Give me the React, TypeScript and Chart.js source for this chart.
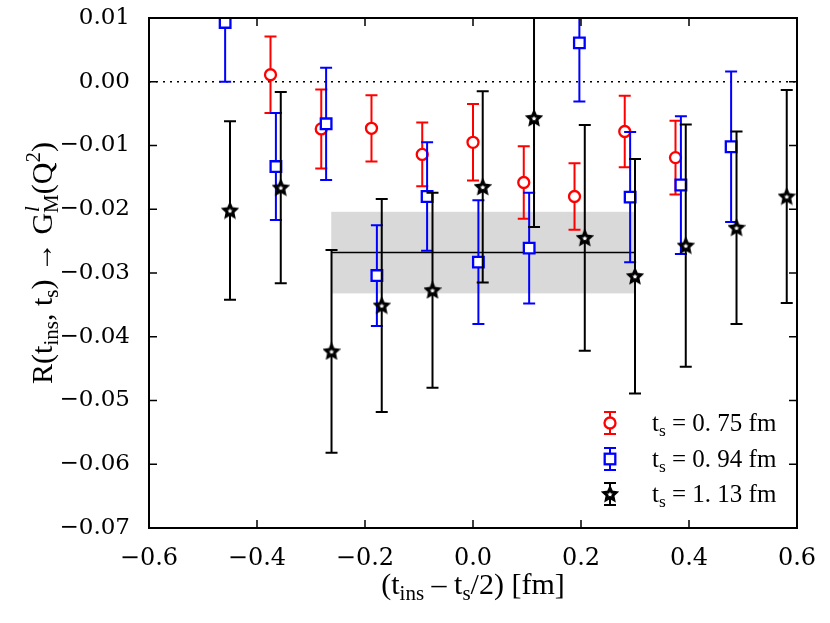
import React, { useEffect, useRef } from 'react';
import { Chart, registerables } from 'chart.js';

Chart.register(...registerables);

// t_s = 0.75 fm
const xRed = [-0.375, -0.281, -0.188, -0.094, 0.0, 0.094, 0.188, 0.281, 0.375];
const yRed = [0.0011, -0.0074, -0.0073, -0.0114, -0.0095, -0.0158, -0.018, -0.0078, -0.0119];
const eRed = [0.006, 0.0062, 0.0052, 0.005, 0.006, 0.0057, 0.0052, 0.0056, 0.0058];

// t_s = 0.94 fm
const xBlue = [-0.459, -0.365, -0.272, -0.178, -0.085, 0.01, 0.104, 0.197, 0.291, 0.385, 0.478];
const yBlue = [0.0093, -0.0133, -0.0066, -0.0304, -0.018, -0.0283, -0.0261, 0.0061, -0.0181, -0.0162, -0.0102];
const eBlue = [0.0093, 0.0084, 0.0088, 0.0079, 0.0085, 0.0097, 0.0087, 0.0092, 0.0102, 0.0108, 0.0118];

// t_s = 1.13 fm
const xBlack = [-0.45, -0.356, -0.262, -0.169, -0.075, 0.018, 0.113, 0.207, 0.3, 0.394, 0.488, 0.581];
const yBlack = [-0.0202, -0.0166, -0.0423, -0.0351, -0.0327, -0.0165, -0.0057, -0.0245, -0.0305, -0.0257, -0.0229, -0.018];
const eBlack = [0.014, 0.015, 0.0159, 0.0167, 0.0153, 0.015, 0.0171, 0.0177, 0.0184, 0.019, 0.0151, 0.0167];

// fit band
const fitRange = [-0.2625, 0.3];
const fitValue = -0.0268;
const fitErr = 0.0064;

const legendLabels = ['0. 75 fm', '0. 94 fm', '1. 13 fm'];

const SERIF = '"Liberation Serif", serif';
const TICKFONT = '"DejaVu Serif", serif';

type Seg = { t: string; k?: 'sub' | 'sup' | 'stack'; sub?: string; italic?: boolean };

function segWidth(ctx: CanvasRenderingContext2D, s: Seg, size: number) {
  if (s.k === 'stack') {
    ctx.font = `italic ${size * 0.7}px ${SERIF}`;
    const a = ctx.measureText(s.t).width;
    ctx.font = `${size * 0.7}px ${SERIF}`;
    const b = ctx.measureText(s.sub || '').width;
    return Math.max(a, b);
  }
  const fs = s.k ? size * 0.7 : size;
  ctx.font = `${s.italic ? 'italic ' : ''}${fs}px ${SERIF}`;
  return ctx.measureText(s.t).width;
}

function drawRich(ctx: CanvasRenderingContext2D, segs: Seg[], x: number, y: number, size: number, center = false) {
  let w = 0;
  segs.forEach(s => (w += segWidth(ctx, s, size)));
  let cx = center ? x - w / 2 : x;
  ctx.textBaseline = 'alphabetic';
  ctx.textAlign = 'left';
  segs.forEach(s => {
    const sw = segWidth(ctx, s, size);
    if (s.k === 'stack') {
      ctx.font = `italic ${size * 0.7}px ${SERIF}`;
      ctx.fillText(s.t, cx + 1, y - size * 0.42);
      ctx.font = `${size * 0.7}px ${SERIF}`;
      ctx.fillText(s.sub || '', cx, y + size * 0.2);
    } else {
      const fs = s.k ? size * 0.7 : size;
      ctx.font = `${s.italic ? 'italic ' : ''}${fs}px ${SERIF}`;
      const dy = s.k === 'sub' ? size * 0.2 : s.k === 'sup' ? -size * 0.4 : 0;
      ctx.fillText(s.t, cx, y + dy);
    }
    cx += sw;
  });
}

function makeStar(): HTMLCanvasElement {
  const c = document.createElement('canvas');
  const s = 18;
  c.width = s;
  c.height = s;
  const g = c.getContext('2d')!;
  g.translate(s / 2, s / 2 + 0.5);
  g.beginPath();
  for (let i = 0; i < 10; i++) {
    const r = i % 2 === 0 ? 6.3 : 3.0;
    const a = -Math.PI / 2 + (i * Math.PI) / 5;
    g.lineTo(r * Math.cos(a), r * Math.sin(a));
  }
  g.closePath();
  g.fillStyle = '#fff';
  g.fill();
  g.lineWidth = 3;
  g.lineJoin = 'miter';
  g.strokeStyle = '#000';
  g.stroke();
  return c;
}

const errorBars = {
  id: 'errorBars',
  beforeDatasetDraw(chart: any, args: any) {
    const ds = chart.data.datasets[args.index];
    if (!ds.errs) return;
    const { ctx, chartArea, scales } = chart;
    ctx.save();
    ctx.beginPath();
    ctx.rect(chartArea.left, chartArea.top, chartArea.right - chartArea.left, chartArea.bottom - chartArea.top);
    ctx.clip();
    ctx.strokeStyle = ds.borderColor;
    ctx.lineWidth = 2;
    ds.data.forEach((p: any, i: number) => {
      const px = scales.x.getPixelForValue(p.x);
      const t = scales.y.getPixelForValue(p.y + ds.errs[i]);
      const b = scales.y.getPixelForValue(p.y - ds.errs[i]);
      ctx.beginPath();
      ctx.moveTo(px, t);
      ctx.lineTo(px, b);
      ctx.moveTo(px - 6, t);
      ctx.lineTo(px + 6, t);
      ctx.moveTo(px - 6, b);
      ctx.lineTo(px + 6, b);
      ctx.stroke();
    });
    ctx.restore();
  },
};

const bandPlugin = {
  id: 'band',
  beforeDatasetsDraw(chart: any) {
    const { ctx, scales } = chart;
    const x0 = scales.x.getPixelForValue(fitRange[0]);
    const x1 = scales.x.getPixelForValue(fitRange[1]);
    const y0 = scales.y.getPixelForValue(fitValue + fitErr);
    const y1 = scales.y.getPixelForValue(fitValue - fitErr);
    ctx.save();
    ctx.fillStyle = '#d9d9d9';
    ctx.fillRect(x0, y0, x1 - x0, y1 - y0);
    ctx.restore();
  },
};

const framePlugin = {
  id: 'frame',
  afterDatasetsDraw(chart: any) {
    const { ctx, chartArea: a, scales } = chart;
    ctx.save();
    ctx.strokeStyle = '#000';
    ctx.lineWidth = 1.5;
    ctx.beginPath();
    scales.x.ticks.forEach((t: any) => {
      const px = scales.x.getPixelForValue(t.value);
      ctx.moveTo(px, a.bottom);
      ctx.lineTo(px, a.bottom - 8);
      ctx.moveTo(px, a.top);
      ctx.lineTo(px, a.top + 8);
    });
    scales.y.ticks.forEach((t: any) => {
      const py = scales.y.getPixelForValue(t.value);
      ctx.moveTo(a.left, py);
      ctx.lineTo(a.left + 8, py);
      ctx.moveTo(a.right, py);
      ctx.lineTo(a.right - 8, py);
    });
    ctx.stroke();
    ctx.lineWidth = 2;
    ctx.strokeRect(a.left, a.top, a.right - a.left, a.bottom - a.top);
    ctx.restore();
  },
  afterDraw(chart: any) {
    const { ctx, chartArea: a } = chart;
    ctx.save();
    ctx.fillStyle = '#000';
    // x title
    drawRich(
      ctx,
      [{ t: '(t' }, { t: 'ins', k: 'sub' }, { t: ' – t' }, { t: 's', k: 'sub' }, { t: '/2) [fm]' }],
      (a.left + a.right) / 2,
      594,
      30,
      true
    );
    // y title
    ctx.translate(52, 263);
    ctx.rotate(-Math.PI / 2);
    drawRich(
      ctx,
      [
        { t: 'R(t' },
        { t: 'ins', k: 'sub' },
        { t: ', t' },
        { t: 's', k: 'sub' },
        { t: ') → G' },
        { t: 'l', k: 'stack', sub: 'M' },
        { t: '(Q' },
        { t: '2', k: 'sup' },
        { t: ')' },
      ],
      0,
      0,
      30,
      true
    );
    ctx.restore();

    // legend
    const colors = ['#ff0000', '#0000ff', '#000000'];
    const rows = [423, 459, 494];
    const star = chart.$star as HTMLCanvasElement;
    rows.forEach((cy, i) => {
      const mx = 610;
      ctx.save();
      ctx.strokeStyle = colors[i];
      ctx.lineWidth = 2;
      ctx.beginPath();
      ctx.moveTo(mx, cy - 11);
      ctx.lineTo(mx, cy + 11);
      ctx.moveTo(mx - 6, cy - 11);
      ctx.lineTo(mx + 6, cy - 11);
      ctx.moveTo(mx - 6, cy + 11);
      ctx.lineTo(mx + 6, cy + 11);
      ctx.stroke();
      ctx.lineWidth = 2.3;
      ctx.fillStyle = '#fff';
      if (i === 0) {
        ctx.beginPath();
        ctx.arc(mx, cy, 5.5, 0, Math.PI * 2);
        ctx.fill();
        ctx.stroke();
      } else if (i === 1) {
        ctx.fillRect(mx - 5.3, cy - 5.3, 10.6, 10.6);
        ctx.strokeRect(mx - 5.3, cy - 5.3, 10.6, 10.6);
      } else if (star) {
        ctx.drawImage(star, mx - star.width / 2, cy - star.height / 2);
      }
      ctx.fillStyle = '#000';
      drawRich(ctx, [{ t: 't' }, { t: 's', k: 'sub' }, { t: ' = ' + legendLabels[i] }], 652, cy + 8, 25);
      ctx.restore();
    });
  },
};

const fmt = (v: number, d: number) => {
  if (Math.abs(v) < 1e-9) return (0).toFixed(d);
  return (v < 0 ? '\u2212' : '') + Math.abs(v).toFixed(d);
};

const App: React.FC = () => {
  const canvasRef = useRef<HTMLCanvasElement | null>(null);

  useEffect(() => {
    const canvas = canvasRef.current;
    if (!canvas) return;
    const star = makeStar();
    const pts = (xs: number[], ys: number[]) => xs.map((x, i) => ({ x, y: ys[i] }));

    const chart = new Chart(canvas, {
      type: 'scatter',
      data: {
        datasets: [
          {
            type: 'line',
            data: [{ x: -0.6, y: 0 }, { x: 0.6, y: 0 }],
            borderColor: '#000',
            borderWidth: 1.5,
            borderDash: [2, 5],
            pointRadius: 0,
            order: 10,
          } as any,
          {
            type: 'line',
            data: [{ x: fitRange[0], y: fitValue }, { x: fitRange[1], y: fitValue }],
            borderColor: '#000',
            borderWidth: 1.5,
            pointRadius: 0,
            order: 9,
          } as any,
          {
            data: pts(xRed, yRed),
            errs: eRed,
            borderColor: '#ff0000',
            backgroundColor: '#fff',
            pointStyle: 'circle',
            pointRadius: 5.5,
            borderWidth: 2.3,
            clip: 0,
            order: 3,
          } as any,
          {
            data: pts(xBlue, yBlue),
            errs: eBlue,
            borderColor: '#0000ff',
            backgroundColor: '#fff',
            pointStyle: 'rect',
            pointRadius: 7.5,
            borderWidth: 2.3,
            clip: 0,
            order: 2,
          } as any,
          {
            data: pts(xBlack, yBlack),
            errs: eBlack,
            borderColor: '#000',
            backgroundColor: '#fff',
            pointStyle: star,
            pointRadius: 7,
            clip: 0,
            order: 1,
          } as any,
        ],
      },
      options: {
        animation: false,
        responsive: true,
        maintainAspectRatio: false,
        layout: { padding: { left: 0, top: 18, right: 33, bottom: 0 } },
        plugins: { legend: { display: false }, tooltip: { enabled: false } },
        scales: {
          x: {
            type: 'linear',
            min: -0.6,
            max: 0.6,
            grid: { display: false },
            border: { display: false },
            ticks: {
              stepSize: 0.2,
              padding: 8,
              color: '#000',
              font: { family: TICKFONT, size: 24 },
              callback: (v: any) => fmt(Number(v), 1),
            },
            afterFit: (s: any) => {
              s.height = 95;
              s.paddingLeft = 0;
              s.paddingRight = 0;
            },
          },
          y: {
            type: 'linear',
            min: -0.07,
            max: 0.01,
            grid: { display: false },
            border: { display: false },
            ticks: {
              stepSize: 0.01,
              padding: 11,
              color: '#000',
              font: { family: TICKFONT, size: 23 },
              callback: (v: any) => fmt(Number(v), 2),
            },
            afterFit: (s: any) => {
              s.width = 149;
              s.paddingTop = 0;
              s.paddingBottom = 0;
            },
          },
        },
      },
      plugins: [bandPlugin, errorBars, framePlugin],
    });
    (chart as any).$star = star;
    chart.draw();

    return () => {
      chart.destroy();
    };
  }, []);

  return (
    <div style={{ position: 'fixed', left: 0, top: 0, width: 830, height: 623, background: '#fff' }}>
      <canvas ref={canvasRef} />
    </div>
  );
};

export default App;
